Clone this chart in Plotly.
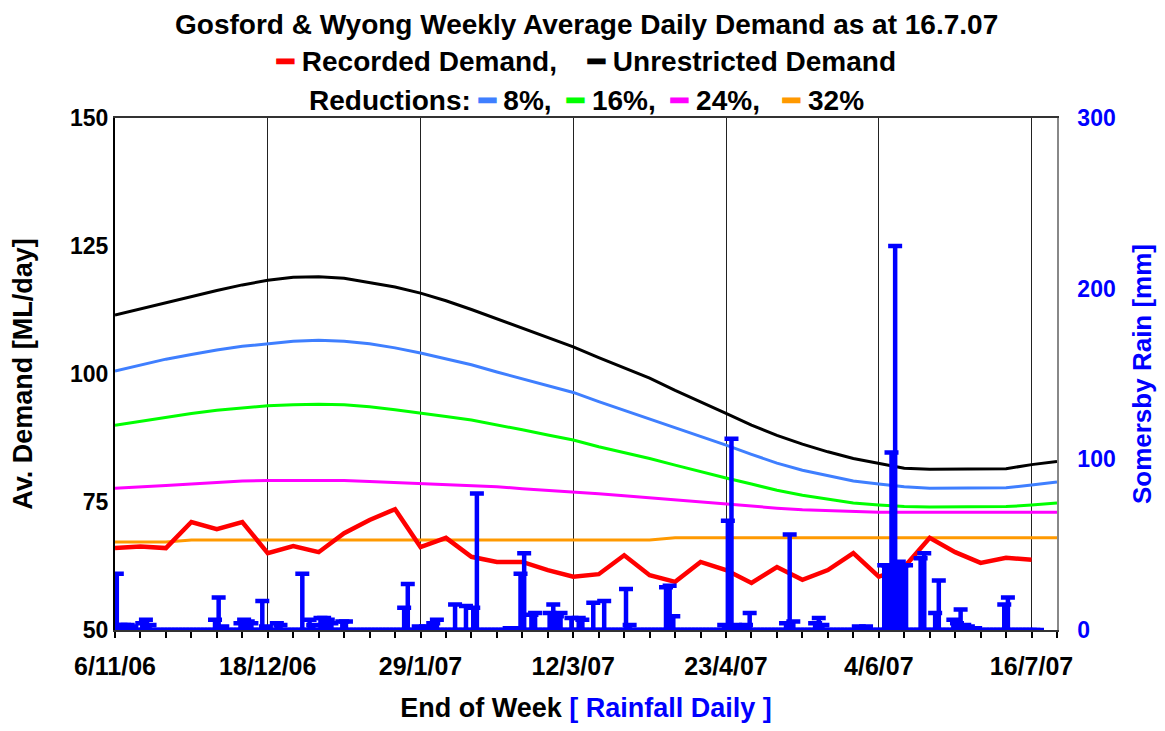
import pandas as pd
import plotly.graph_objects as go

# ---------------- data ----------------
start = pd.Timestamp("2006-11-06")
week_dates = pd.date_range(start, periods=38, freq="7D")  # 6/11/06 .. 23/7/07

unrestricted = [111.5, 112.7, 114.0, 115.2, 116.3, 117.4, 118.3, 118.9, 119.0, 118.7,
                117.9, 117.0, 115.8, 114.3, 112.6, 110.8, 109.0, 107.2, 105.3, 103.2,
                101.2, 99.2, 96.8, 94.6, 92.3, 90.0, 88.0, 86.3, 84.8, 83.5,
                82.6, 81.6, 81.4, 81.4, 81.4, 81.5, 82.3, 82.9]
red_8 = [100.6, 101.8, 102.9, 103.8, 104.7, 105.4, 105.9, 106.4, 106.6, 106.4,
         105.9, 105.1, 104.1, 103.0, 101.8, 100.4, 99.1, 97.8, 96.4, 94.6,
         92.9, 91.3, 89.5, 87.8, 86.1, 84.3, 82.6, 81.2, 80.1, 79.1,
         78.5, 78.0, 77.7, 77.7, 77.7, 77.8, 78.3, 78.9]
red_16 = [90.0, 90.8, 91.6, 92.3, 92.9, 93.4, 93.8, 94.0, 94.1, 94.0,
          93.6, 93.0, 92.4, 91.7, 91.0, 90.1, 89.1, 88.1, 87.1, 85.8,
          84.7, 83.5, 82.2, 80.9, 79.7, 78.5, 77.3, 76.3, 75.5, 74.8,
          74.4, 74.1, 74.0, 74.0, 74.0, 74.1, 74.4, 74.8]
red_24 = [77.7, 77.9, 78.2, 78.5, 78.8, 79.1, 79.2, 79.2, 79.2, 79.2,
          79.0, 78.8, 78.7, 78.5, 78.3, 78.0, 77.6, 77.3, 77.0, 76.6,
          76.2, 75.8, 75.4, 75.0, 74.5, 74.1, 73.8, 73.5, 73.3, 73.1,
          73.0, 73.0, 73.0, 73.0, 73.0, 73.0, 73.0, 73.0]
red_32 = [67.2, 67.2, 67.2, 67.6, 67.6, 67.6, 67.6, 67.6, 67.6, 67.6,
          67.6, 67.6, 67.6, 67.6, 67.6, 67.6, 67.6, 67.6, 67.6, 67.6,
          67.6, 67.6, 68.0, 68.0, 68.0, 68.0, 68.0, 68.0, 68.0, 68.0,
          68.0, 68.0, 68.0, 68.0, 68.0, 68.0, 68.0, 68.0]
recorded = [66.0, 66.3, 66.0, 71.1, 69.7, 71.1, 65.0, 66.4, 65.2, 68.9,
            71.5, 73.6, 66.2, 68.0, 64.3, 63.3, 63.3, 61.7, 60.4, 60.9,
            64.6, 60.7, 59.4, 63.3, 61.7, 59.2, 62.3, 59.8, 61.7, 65.0,
            60.4, 62.3, 68.0, 65.2, 63.1, 64.1, 63.7]

# daily rainfall (Somersby): day offset from 6/11/06 and mm (other days 0)
rain_day = [0, 1, 2, 3, 4, 7, 8, 9, 27, 28, 29, 34, 35, 36, 37, 40, 41, 44, 45,
            51, 53, 54, 56, 57, 58, 59, 62, 63, 79, 80, 83, 85, 87, 88, 93, 96,
            98, 99, 108, 109, 111, 112, 114, 115, 119, 120, 121, 122, 125, 127,
            128, 131, 134, 140, 141, 151, 152, 153, 167, 168, 169, 170, 171,
            173, 174, 184, 185, 186, 192, 193, 194, 204, 206, 211, 212, 213,
            214, 215, 216, 217, 221, 222, 225, 226, 230, 231, 232, 233, 234,
            236, 244, 245]
rain_mm = [33, 3, 3, 3, 2, 4, 6, 3, 6, 19, 2, 4, 6, 5, 4, 17, 2, 4, 3,
           33, 6, 3, 7, 7, 6, 4, 5, 5, 13, 27, 2, 2, 4, 6, 15, 14,
           13, 80, 1, 1, 33, 45, 9, 10, 10, 15, 8, 10, 7, 7,
           6, 16, 17, 24, 3, 25, 26, 8, 3, 64, 112, 3, 2,
           3, 10, 4, 56, 5, 4, 7, 3, 2, 2, 38, 38, 104,
           225, 40, 38, 38, 42, 45, 10, 29, 6, 4, 12, 3, 2,
           1, 15, 19]
rain_last_day = 253

tick_labels = ["6/11/06", "18/12/06", "29/1/07", "12/3/07", "23/4/07", "4/6/07", "16/7/07"]

# ---------------- build ----------------
all_days = list(range(rain_last_day + 1))
rain_map = dict(zip(rain_day, rain_mm))
rain_vals = [rain_map.get(d, 0) for d in all_days]
rain_dates = [start + pd.Timedelta(days=d, hours=12) for d in all_days]
tick_dates = pd.date_range(start, periods=len(tick_labels), freq="42D")

FONT = "Liberation Sans, Arial, sans-serif"
BLUE = "#0000FF"

fig = go.Figure()
series = [
    (unrestricted, "Unrestricted Demand", "#000000"),
    (red_8, "8%", "#3F7FFF"),
    (red_16, "16%", "#00FF00"),
    (red_24, "24%", "#FF00FF"),
    (red_32, "32%", "#FF9900"),
]
for vals, name, col in series:
    fig.add_trace(go.Scatter(x=week_dates, y=vals, mode="lines", name=name,
                             line=dict(color=col, width=3), yaxis="y"))
fig.add_trace(go.Scatter(x=week_dates[:len(recorded)], y=recorded, mode="lines",
                         name="Recorded Demand", line=dict(color="#FF0000", width=4.5),
                         yaxis="y"))

fig.add_trace(go.Scatter(
    x=rain_dates, y=rain_vals, mode="markers", name="Rainfall Daily",
    marker=dict(size=1, opacity=0, color=BLUE), yaxis="y2",
    error_y=dict(type="data", symmetric=False, array=[0] * len(rain_vals),
                 arrayminus=rain_vals, color=BLUE, thickness=4.5, width=7),
))

# page body has an 8px margin, so the figure is 16px smaller than the window
fig.update_layout(
    width=1149, height=715,
    margin=dict(l=107, r=100, t=110, b=93),
    paper_bgcolor="white", plot_bgcolor="white",
    showlegend=False,
    font=dict(family=FONT, color="black", size=22),
    xaxis=dict(
        type="date", automargin=False,
        range=[start, pd.Timestamp("2007-07-23")],
        tickmode="array", tickvals=tick_dates, ticktext=tick_labels,
        ticks="outside", ticklen=6, tickwidth=1.5, tickcolor="black",
        minor=dict(dtick=7 * 86400000, tick0=start, ticks="outside",
                   ticklen=6, tickwidth=1.5, tickcolor="black", showgrid=False),
        showgrid=True, gridcolor="#222222", gridwidth=1.3,
        showline=True, linecolor="#333333", linewidth=2, mirror=True,
        tickfont=dict(family=FONT, size=25, weight="bold"),
        ticklabelstandoff=7,
        title=dict(text="End of Week <span style='color:#0000FF'>[ Rainfall Daily ]</span>",
                   font=dict(family=FONT, size=27, weight="bold"), standoff=26),
        zeroline=False,
    ),
    yaxis=dict(
        range=[50, 150], dtick=25, tick0=50, automargin=False,
        showgrid=False, zeroline=False,
        showline=True, linecolor="black", linewidth=2,
        tickfont=dict(family=FONT, size=23, weight="bold"),
        title=dict(text="Av. Demand [ML/day]",
                   font=dict(family=FONT, size=27, weight="bold"), standoff=30),
    ),
    yaxis2=dict(
        range=[0, 300], dtick=100, tick0=0, automargin=False,
        overlaying="y", side="right",
        showgrid=False, zeroline=False,
        showline=True, linecolor="#888888", linewidth=1.5,
        tickfont=dict(family=FONT, size=23, weight="bold", color=BLUE),
        ticklabelstandoff=14,
        title=dict(text="Somersby Rain [mm]",
                   font=dict(family=FONT, size=26, weight="bold", color=BLUE), standoff=20),
    ),
)

ann_font = dict(family=FONT, size=28, weight="bold", color="black")
fig.add_annotation(
    text="Gosford &amp; Wyong Weekly Average Daily Demand as at 16.7.07",
    xref="paper", yref="paper", x=0.5, y=1, yshift=94, xanchor="center",
    yanchor="middle", showarrow=False,
    font=dict(family=FONT, size=28, weight="bold", color="black"))
fig.add_annotation(
    text="<span style='color:#FF0000'>━</span> Recorded Demand,    "
         "<span style='color:#000000'>━</span> Unrestricted Demand",
    xref="paper", yref="paper", x=0.5, y=1, yshift=57, xanchor="center",
    yanchor="middle", showarrow=False, font=ann_font)
fig.add_annotation(
    text="Reductions: <span style='color:#3F7FFF'>━</span> 8%,  "
         "<span style='color:#00FF00'>━</span> 16%,  "
         "<span style='color:#FF00FF'>━</span> 24%,   "
         "<span style='color:#FF9900'>━</span> 32%",
    xref="paper", yref="paper", x=0.5, y=1, yshift=18, xanchor="center",
    yanchor="middle", showarrow=False, font=ann_font)

fig.write_html("out.html")
